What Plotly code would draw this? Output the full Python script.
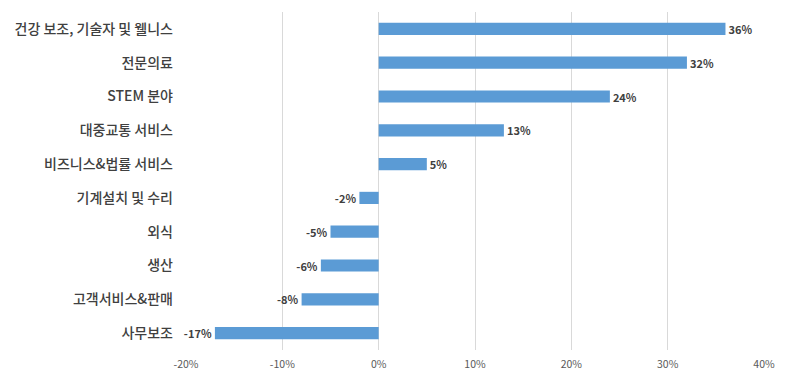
import plotly.graph_objects as go

categories = ["건강 보조, 기술자 및 웰니스", "전문의료", "STEM 분야", "대중교통 서비스",
              "비즈니스&법률 서비스", "기계설치 및 수리", "외식", "생산", "고객서비스&판매", "사무보조"]
values = [36, 32, 24, 13, 5, -2, -5, -6, -8, -17]
tick_vals = [-20, -10, 0, 10, 20, 30, 40]
tick_text = ["-20%", "-10%", "0%", "10%", "20%", "30%", "40%"]

fig = go.Figure(go.Bar(
    x=values, y=categories, orientation="h",
    marker=dict(color="#5B9BD5", line=dict(width=0)),
    text=[f"{v}%" for v in values], textposition="outside",
    textfont=dict(family="Noto Sans CJK KR", size=11, color="#404040", weight="bold"),
    constraintext="none",
    cliponaxis=False, width=0.36,
))

# page body has an 8px margin, so the figure is sized to fit the 788x376 window
fig.update_layout(
    width=780, height=368,
    margin=dict(l=178, r=24, t=4, b=26, autoexpand=False),
    plot_bgcolor="white", paper_bgcolor="white",
    showlegend=False,
    xaxis=dict(range=[-20, 40], tickvals=tick_vals, ticktext=tick_text,
               showgrid=True, gridcolor="#D9D9D9", gridwidth=1,
               zeroline=True, zerolinecolor="#D9D9D9", zerolinewidth=1,
               tickfont=dict(family="Noto Sans CJK KR", size=10.5, color="#595959"),
               ticks="", ticklabelstandoff=6, showline=False, fixedrange=True),
    yaxis=dict(autorange="reversed", showgrid=False, ticks="", ticklabelstandoff=12,
               tickfont=dict(family="Noto Sans CJK KR", size=14, color="#404040", weight=500),
               showline=False, fixedrange=True),
)

fig.write_html("out.html")
